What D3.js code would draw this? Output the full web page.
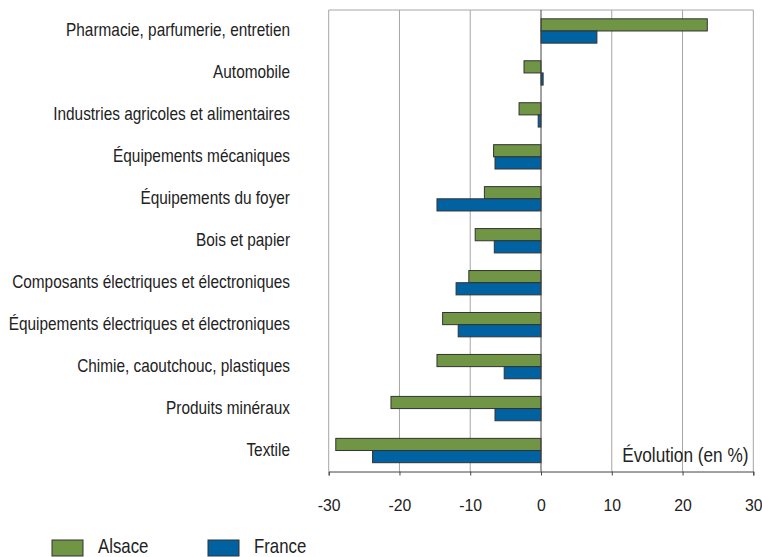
<!DOCTYPE html>
<html><head><meta charset="utf-8">
<script src="https://cdn.jsdelivr.net/npm/d3@7"></script>
<style>body{margin:0;background:#fff}svg{display:block;font-family:"Liberation Sans",Arial,sans-serif}</style>
</head><body>
<svg id="c" width="762" height="557"></svg>
<script>
const categories = ["Pharmacie, parfumerie, entretien","Automobile","Industries agricoles et alimentaires","Équipements mécaniques","Équipements du foyer","Bois et papier","Composants électriques et électroniques","Équipements électriques et électroniques","Chimie, caoutchouc, plastiques","Produits minéraux","Textile"];
const alsace = [23.5,-2.4,-3.1,-6.7,-8.0,-9.3,-10.2,-13.9,-14.7,-21.2,-29.0];
const france = [7.9,0.3,-0.4,-6.5,-14.7,-6.6,-12.0,-11.7,-5.2,-6.5,-23.8];
const seriesNames = ["Alsace","France"];
const colors = ["#6F9545","#0062A0"];
const xTicks = [-30,-20,-10,0,10,20,30];
const axisTitle = "Évolution (en %)";

const svg = d3.select("#c");
const L = 328.7, R = 753.3, T = 10, B = 471.5;
const x = d3.scaleLinear().domain([-30,30]).range([L,R]);
const y = d3.scaleBand().domain(categories).range([T,B]).paddingInner(0.42).paddingOuter(0.21);
const ys = d3.scaleBand().domain(seriesNames).range([0,y.bandwidth()]);

// grid
svg.append("g").selectAll("line").data(xTicks.filter(d=>d!==0)).join("line")
  .attr("x1",d=>x(d)).attr("x2",d=>x(d)).attr("y1",T).attr("y2",B)
  .attr("stroke","#a6a6a6").attr("stroke-width",1);
svg.append("line").attr("x1",L).attr("x2",R).attr("y1",T).attr("y2",T).attr("stroke","#a6a6a6");

// bars
const data = categories.map((c,i)=>({c, v:[alsace[i],france[i]]}));
const g = svg.append("g");
data.forEach(d=>{
  seriesNames.forEach((s,j)=>{
    const v = d.v[j];
    g.append("rect")
      .attr("x", x(Math.min(0,v))).attr("width", Math.abs(x(v)-x(0)))
      .attr("y", y(d.c)+ys(s)).attr("height", ys.bandwidth())
      .attr("fill", colors[j]).attr("stroke","#333").attr("stroke-width",1);
  });
});

// zero line
svg.append("line").attr("x1",x(0)).attr("x2",x(0)).attr("y1",T).attr("y2",B).attr("stroke","#444").attr("stroke-width",1);

// bottom axis
const ax = svg.append("g").attr("transform",`translate(0,${B})`)
  .call(d3.axisBottom(x).tickValues(xTicks).tickSize(4).tickPadding(24).tickFormat(d=>String(d)));
ax.select(".domain").attr("stroke","#444");
ax.selectAll(".tick line").attr("stroke","#444");
ax.selectAll("text").attr("font-size",15.8).attr("fill","#222").attr("font-family","Liberation Sans, Arial, sans-serif");

// category labels (condensed)
svg.append("g").selectAll("text").data(categories).join("text")
  .attr("transform",d=>`translate(290,${y(d)+y.bandwidth()/2+5.2}) scale(0.855,1)`)
  .attr("text-anchor","end").attr("font-size",18).attr("fill","#222").text(d=>d);

// axis title
svg.append("text").attr("transform","translate(748.5,462) scale(0.84,1)").attr("text-anchor","end")
  .attr("font-size",20.5).attr("fill","#222").text(axisTitle);

// legend
const lg = svg.append("g");
const lx = [52,208];
seriesNames.forEach((s,j)=>{
  lg.append("rect").attr("x",lx[j]).attr("y",540).attr("width",31).attr("height",16)
    .attr("fill",colors[j]).attr("stroke","#333");
  lg.append("text").attr("transform",`translate(${lx[j]+46},553) scale(0.84,1)`)
    .attr("font-size",20).attr("fill","#222").text(s);
});
</script>
</body></html>
